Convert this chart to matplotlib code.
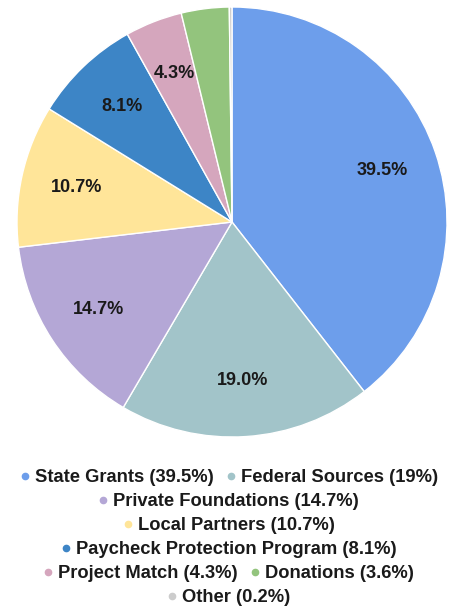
import matplotlib.pyplot as plt
from matplotlib.lines import Line2D

plt.rcParams['font.family'] = ['Liberation Sans', 'DejaVu Sans']

# Données
categories = ["State Grants", "Federal Sources", "Private Foundations", "Local Partners",
              "Paycheck Protection Program", "Project Match", "Donations", "Other"]
values = [39.5, 19.0, 14.7, 10.7, 8.1, 4.3, 3.6, 0.2]
legend_pct = ["39.5%", "19%", "14.7%", "10.7%", "8.1%", "4.3%", "3.6%", "0.2%"]
colors = ["#6d9eeb", "#a2c4c9", "#b4a7d6", "#ffe599", "#3d85c6", "#d5a6bd", "#93c47d", "#cccccc"]
legend_rows = [[0, 1], [2], [3], [4], [5, 6], [7]]

W, H = 458, 610
fig = plt.figure(figsize=(W / 100, H / 100), dpi=100)

cx, cy, r = 232, 222, 215
ax = fig.add_axes([(cx - r) / W, 1 - (cy + r) / H, 2 * r / W, 2 * r / H])


def pct_label(p):
    return f"{p:.1f}%" if p >= 4 else ""


wedges, texts, autotexts = ax.pie(values, colors=colors, startangle=90, counterclock=False,
                                  autopct=pct_label, pctdistance=0.74,
                                  wedgeprops=dict(edgecolor="white", linewidth=1))
for t in autotexts:
    t.set_fontsize(13)
    t.set_fontweight("bold")
    t.set_color("#1a1a1a")
ax.set_xlim(-1, 1)
ax.set_ylim(-1, 1)
ax.set_aspect("equal")
ax.axis("off")

# légende : une rangée centrée par ligne
row_y = [478, 502, 526, 550, 574, 598]
for row, y in zip(legend_rows, row_y):
    handles = [Line2D([], [], marker="o", linestyle="", markersize=4.5,
                      color=colors[i]) for i in row]
    labels = [f"{categories[i]} ({legend_pct[i]})" for i in row]
    leg = fig.legend(handles, labels, loc="center", bbox_to_anchor=(0.5, 1 - y / H),
                     ncol=len(row), frameon=False, handlelength=0.5, handletextpad=0.3,
                     columnspacing=0.7, borderpad=0, borderaxespad=0,
                     prop=dict(size=13.2, weight="bold"))
    for t in leg.get_texts():
        t.set_color("#1a1a1a")

fig.savefig("out.png", dpi=100)
